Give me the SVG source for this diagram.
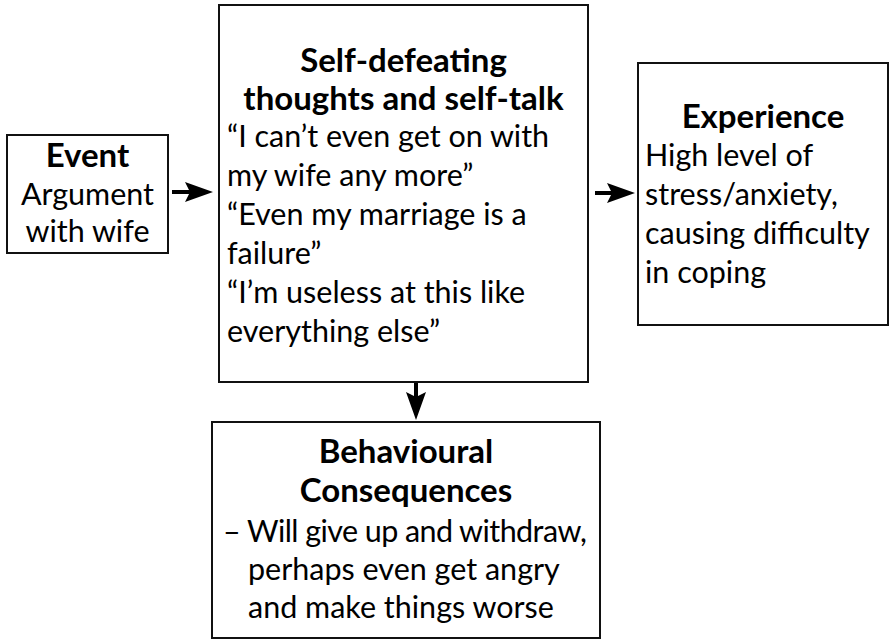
<svg xmlns="http://www.w3.org/2000/svg" width="890" height="639" viewBox="0 0 890 639">
<style>
.box{fill:#fff;stroke:#111;stroke-width:2}
text{font-family:Lato,"Open Sans","Liberation Sans",sans-serif;font-size:30.5px;fill:#000}
.t{font-weight:bold;text-anchor:middle;font-size:33px}
.c{text-anchor:middle}
.shaft{stroke:#000;stroke-width:4;fill:none}
.head{fill:#000}
</style>
<rect width="890" height="639" fill="#fff"/>
<g id="event">
<rect class="box" x="7" y="135" width="161" height="118"/>
<text class="t" x="87.5" y="167">Event</text>
<text class="c" x="87.5" y="205">Argument</text>
<text class="c" x="87.5" y="242">with wife</text>
</g>
<g id="thoughts">
<rect class="box" x="219" y="5" width="369" height="377"/>
<text class="t" x="403.5" y="72">Self-defeating</text>
<text class="t" x="403.5" y="110">thoughts and self-talk</text>
<text x="227" y="147">“I can’t even get on with</text>
<text x="227" y="186">my wife any more”</text>
<text x="227" y="225">“Even my marriage is a</text>
<text x="227" y="264">failure”</text>
<text x="227" y="303">“I’m useless at this like</text>
<text x="227" y="342">everything else”</text>
</g>
<g id="experience">
<rect class="box" x="638" y="63" width="250" height="262"/>
<text class="t" x="763" y="128">Experience</text>
<text x="645" y="166">High level of</text>
<text x="645" y="205">stress/anxiety,</text>
<text x="645" y="244">causing difficulty</text>
<text x="645" y="283">in coping</text>
</g>
<g id="behaviour">
<rect class="box" x="212" y="422" width="388" height="216"/>
<text class="t" x="406" y="463">Behavioural</text>
<text class="t" x="406" y="502">Consequences</text>
<text x="223" y="542">–</text>
<text x="247" y="542" textLength="340" lengthAdjust="spacing">Will give up and withdraw,</text>
<text x="248" y="580">perhaps even get angry</text>
<text x="248" y="618">and make things worse</text>
</g>
<g id="connectors">
<line class="shaft" x1="172" y1="192" x2="192" y2="192"/>
<path class="head" d="M213,192 L185,182 L190,192 L185,202 Z"/>
<line class="shaft" x1="595" y1="193" x2="614" y2="193"/>
<path class="head" d="M635,193 L607,183 L612,193 L607,203 Z"/>
<line class="shaft" x1="416" y1="383" x2="416" y2="400"/>
<path class="head" d="M416,420 L406,392 L416,397 L426,392 Z"/>
</g>
</svg>
